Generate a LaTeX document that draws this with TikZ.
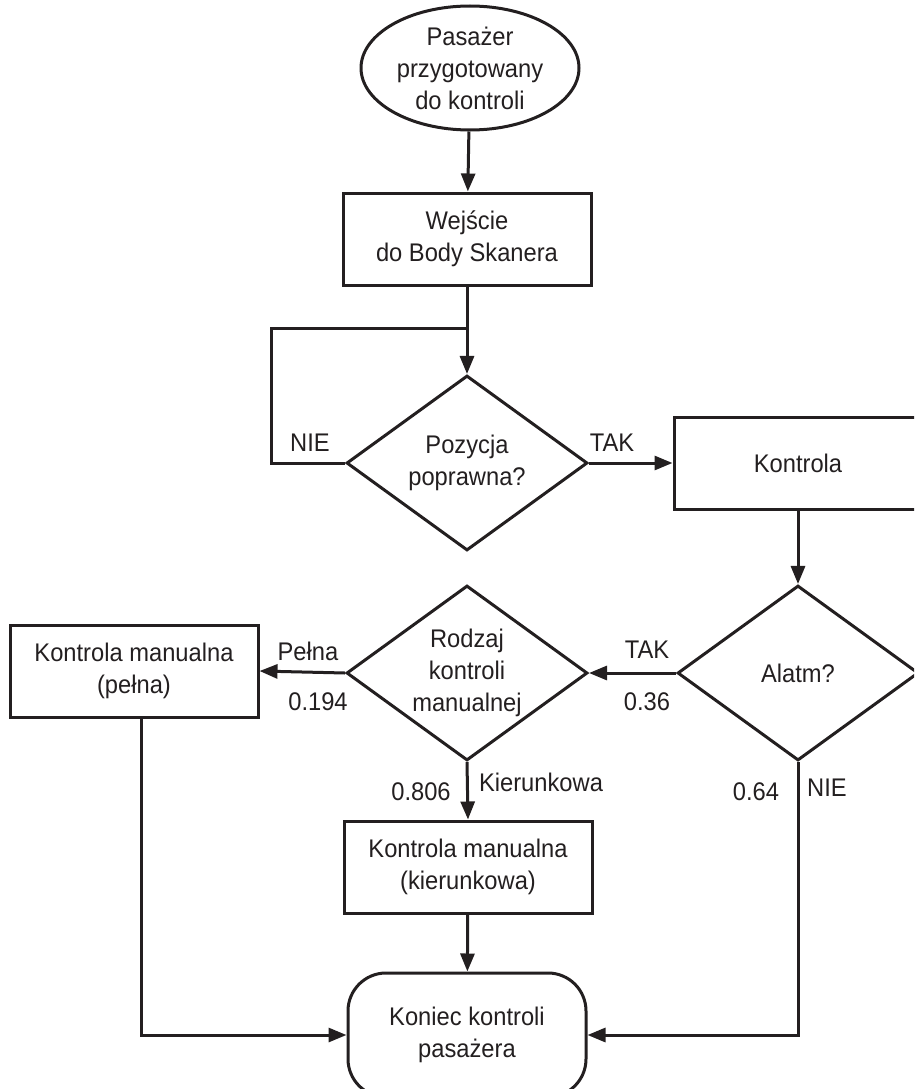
\documentclass[tikz,border=0pt]{standalone}
\usepackage{fontspec}
\setmainfont{Liberation Sans}[FakeStretch=0.93]
\usetikzlibrary{shapes.geometric,arrows.meta}

\definecolor{ink}{HTML}{231F20}

\begin{document}
\begin{tikzpicture}[x=1pt,y=-1pt,
  every node/.style={font=\fontsize{25.5}{32}\selectfont, text=ink},
  flow/.style={line width=3pt, draw=ink},
  arrow/.style={flow, -{Triangle[length=18pt,width=14pt]}},
  stepbox/.style={flow, rectangle, inner sep=0pt, align=center,
                  minimum width=248pt, minimum height=92pt},
  decision/.style={flow, diamond, inner sep=0pt, align=center, aspect=1.37,
                   minimum width=241pt, minimum height=175pt},
  terminal/.style={flow, ellipse, inner sep=0pt, align=center,
                   minimum width=218pt, minimum height=124pt},
  endbox/.style={flow, rectangle, rounded corners=38pt, inner sep=0pt,
                 align=center, minimum width=238pt, minimum height=124pt},
  lbl/.style={inner sep=0pt}
]
\useasboundingbox (0,0) rectangle (914,1089);
\clip (0,0) rectangle (914,1089);

% process steps
\node[terminal] (start) at (470,68) {Pasażer\\przygotowany\\do kontroli};
\node[stepbox]  (wej)   at (467,239) {Wejście\\do Body Skanera};
\node[decision] (poz)   at (467,463) {Pozycja\\poprawna?};
\node[stepbox]  (kon)   at (798,463) {Kontrola};
\node[decision] (alarm) at (798,673) {Alatm?};
\node[decision] (rodz)  at (467,673) {Rodzaj\\kontroli\\manualnej};
\node[stepbox]  (pel)   at (134,671) {Kontrola manualna\\(pełna)};
\node[stepbox]  (kie)   at (468,867) {Kontrola manualna\\(kierunkowa)};
\node[endbox]   (end)   at (467,1035) {Koniec kontroli\\pasażera};

% helper points of the repositioning loop
\coordinate (join) at (467,328);
\coordinate (loop) at (271,328);

% connectors
\draw[arrow] (start) -- (wej);
\draw[arrow] (wej) -- (poz);
\draw[flow]  (poz.west) -| (loop) -- (join);
\draw[arrow] (poz.east) -- (kon.west);
\draw[arrow] (kon) -- (alarm);
\draw[arrow] (alarm.west) -- (rodz.east);
\draw[arrow] (rodz.west) -- (pel.east);
\draw[arrow] (rodz.south) -- (kie.north);
\draw[arrow] (kie) -- (end);
\draw[arrow] ([xshift=7pt]pel.south) |- (end.west);
\draw[arrow] (alarm.south) |- (end.east);

% branch labels
\node[lbl] (nie1)  at (310,443) {NIE};
\node[lbl] (tak1)  at (612,443) {TAK};
\node[lbl] (tak2)  at (647,650) {TAK};
\node[lbl] (p036)  at (647,702) {0.36};
\node[lbl] (pelna) at (308,651) {Pełna};
\node[lbl] (p0194) at (318,702) {0.194};
\node[lbl] (p0806) at (421,792) {0.806};
\node[lbl] (kier)  at (541,782) {Kierunkowa};
\node[lbl] (p064)  at (756,792) {0.64};
\node[lbl] (nie2)  at (827,788) {NIE};
\end{tikzpicture}
\end{document}
